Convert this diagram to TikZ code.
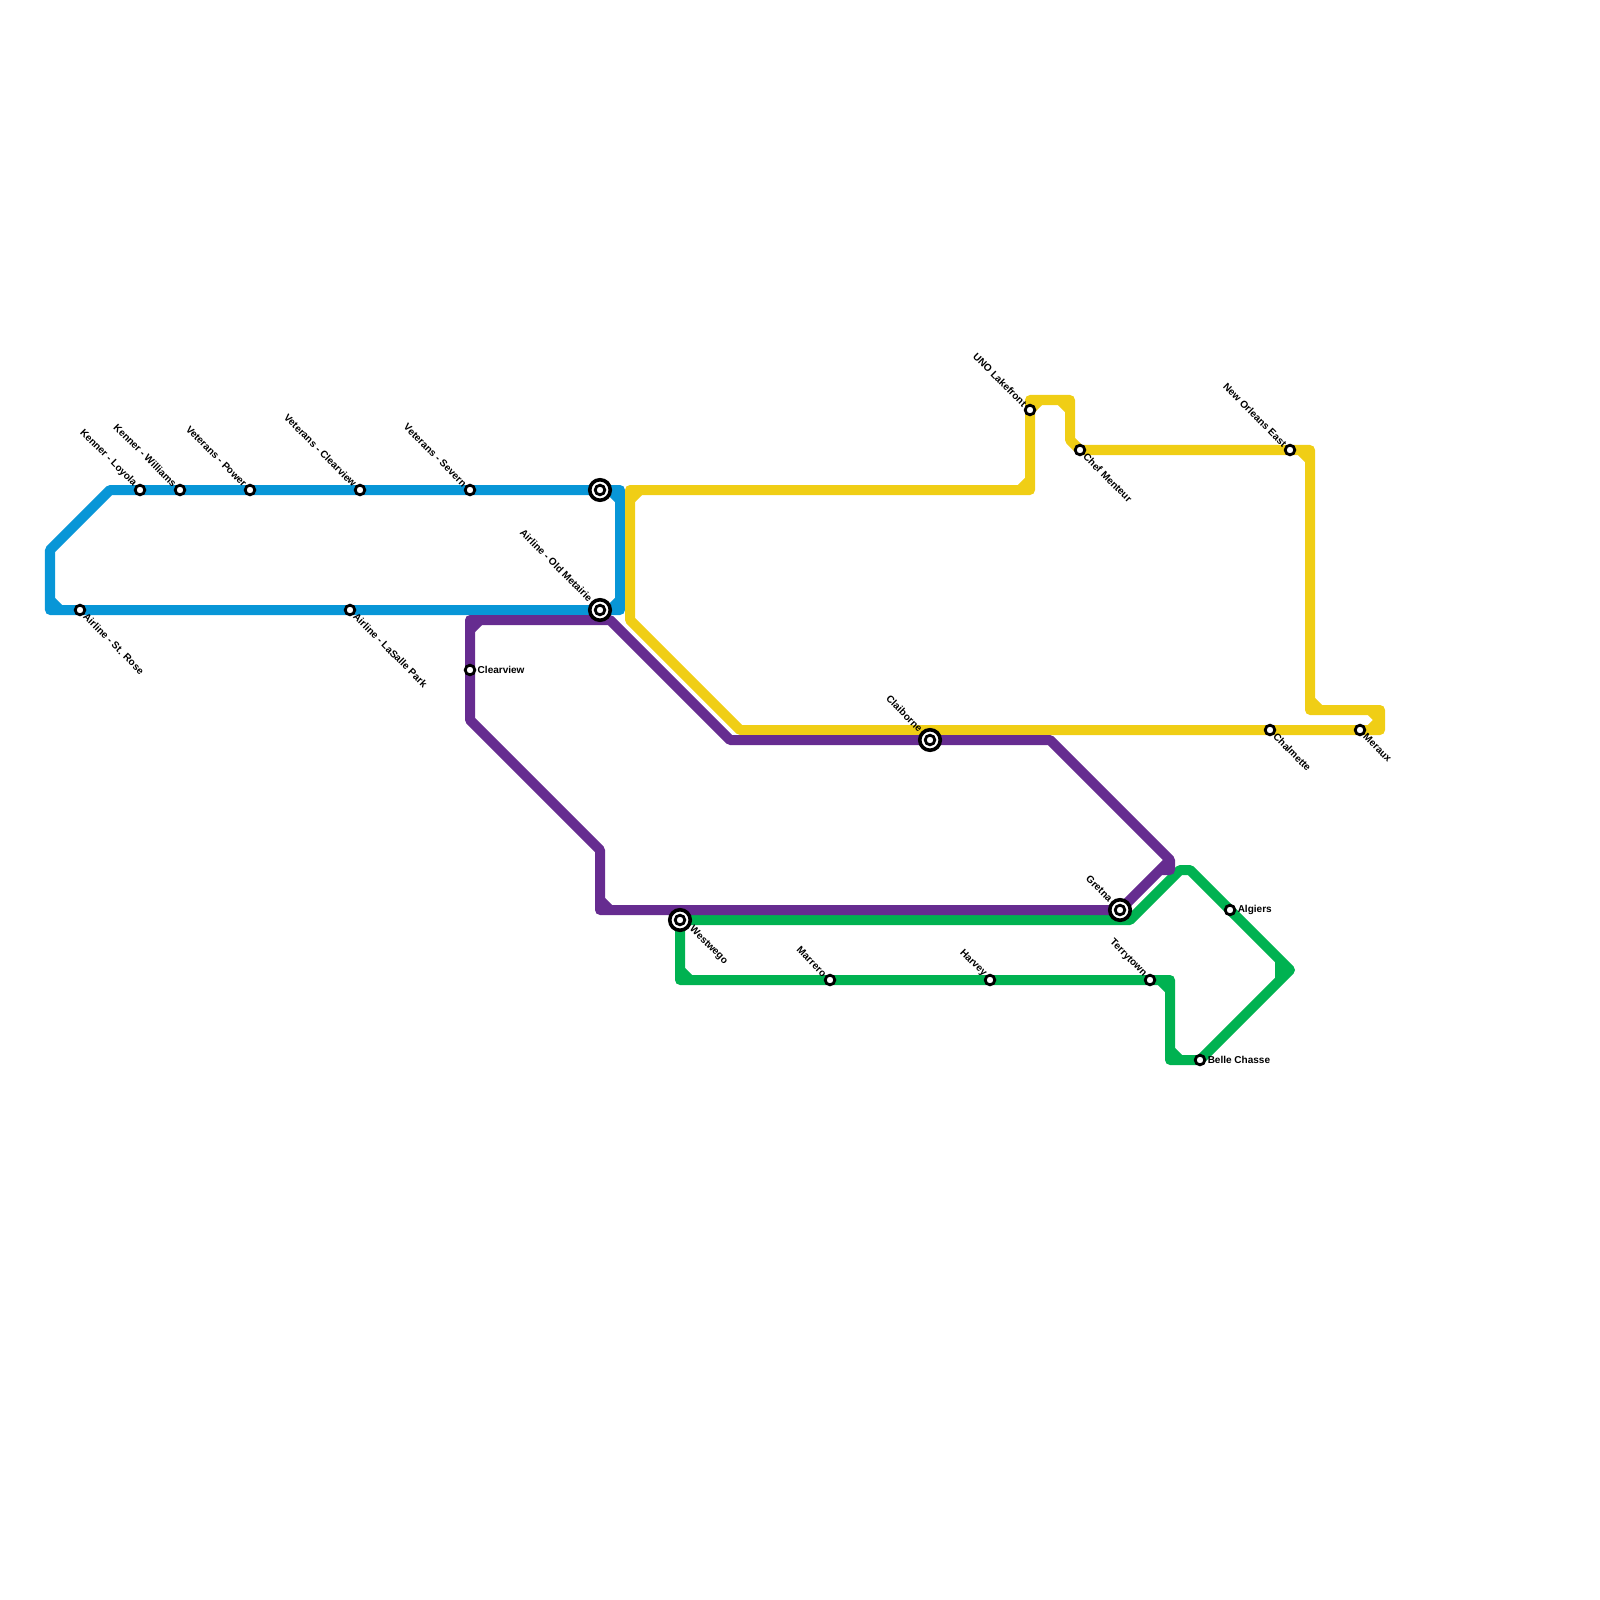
\documentclass[tikz,border=0pt]{standalone}
\usepackage{fontspec}
\setmainfont{Liberation Sans}
\usetikzlibrary{backgrounds}
\definecolor{bluewire}{HTML}{0896D7}
\definecolor{yellowwire}{HTML}{F0CE15}
\definecolor{purplewire}{HTML}{662C90}
\definecolor{greenwire}{HTML}{00B251}
\tikzset{
    wire/.style={line width=0.1cm, line join=round},
    stn/.style={circle, draw=black, fill=white, line width=0.028cm, minimum size=0.096cm, inner sep=0pt},
    hub/.style={circle, draw=black, fill=white, line width=0.036cm, minimum size=0.205cm, inner sep=0pt},
    tag/.style={font=\fontsize{2.85}{3}\selectfont\bfseries, inner sep=0pt, text=black},
    tagnw/.style={tag, anchor=east, xshift=-1.3pt, yshift=1.3pt, rotate=-45},
    tagse/.style={tag, anchor=west, xshift=1.3pt, yshift=-1.3pt, rotate=-45},
    hubnw/.style={tag, anchor=east, xshift=-2.5pt, yshift=2.7pt, rotate=-45},
    hubse/.style={tag, anchor=west, xshift=3pt, yshift=-2.1pt, rotate=-45},
    tagfar/.style={tag, anchor=west, xshift=2pt, yshift=0.15pt},
}
\begin{document}
\begin{tikzpicture}[x=0.01cm, y=-0.01cm]
    \useasboundingbox (0,0) rectangle (1600,1600);
    % corners of the four routes
    \foreach \n/\x/\y in {b1/620/490, b2/620/610, b3/50/610, b4/50/550, b5/110/490,
        y1/630/490, y2/1030/490, y3/1030/400, y4/1070/400, y5/1070/440, y6/1080/450, y7/1310/450,
        y8/1310/710, y9/1380/710, y10/1380/730, y11/740/730, y12/630/620,
        p1/470/620, p2/610/620, p3/730/740, p4/1050/740, p5/1170/860, p6/1170/870, p7/1160/870,
        p8/1120/910, p9/600/910, p10/600/850, p11/470/720,
        g1/680/920, g2/1130/920, g3/1180/870, g4/1190/870, g5/1290/970, g6/1200/1060,
        g7/1170/1060, g8/1170/980, g9/680/980, g10/1280/960, g11/1280/980}
        \coordinate (\n) at (\x,\y);

    % blue line
    \node[stn] (loyola) at (140,490) {};
    \node[stn] (williams) at (180,490) {};
    \node[stn] (power) at (250,490) {};
    \node[stn] (clearviewtop) at (360,490) {};
    \node[stn] (severn) at (470,490) {};
    \node[hub] (transfer) at (600,490) {};
    \node[stn] (transferin) at (transfer) {};
    \node[hub] (metairie) at (600,610) {};
    \node[stn] (metairiein) at (metairie) {};
    \node[stn] (lasalle) at (350,610) {};
    \node[stn] (strose) at (80,610) {};
    \node[tagnw] (loyolatag) at (loyola) {Kenner - Loyola};
    \node[tagnw] (williamstag) at (williams) {Kenner - Williams};
    \node[tagnw] (powertag) at (power) {Veterans - Power};
    \node[tagnw] (clearviewtoptag) at (clearviewtop) {Veterans - Clearview};
    \node[tagnw] (severntag) at (severn) {Veterans - Severn};
    \node[hubnw] (metairietag) at (metairie) {Airline - Old Metairie};
    \node[tagse] (lasalletag) at (lasalle) {Airline - LaSalle Park};
    \node[tagse] (strosetag) at (strose) {Airline - St. Rose};

    % yellow line
    \node[stn] (lakefront) at (1030,410) {};
    \node[stn] (menteur) at (1080,450) {};
    \node[stn] (east) at (1290,450) {};
    \node[stn] (chalmette) at (1270,730) {};
    \node[stn] (meraux) at (1360,730) {};
    \node[tagnw] (lakefronttag) at (lakefront) {UNO Lakefront};
    \node[tagse] (menteurtag) at (menteur) {Chef Menteur};
    \node[tagnw] (easttag) at (east) {New Orleans East};
    \node[tagse] (chalmettetag) at (chalmette) {Chalmette};
    \node[tagse] (merauxtag) at (meraux) {Meraux};

    % purple line
    \node[stn] (clearview) at (470,670) {};
    \node[hub] (claiborne) at (930,740) {};
    \node[stn] (claibornein) at (claiborne) {};
    \node[hub] (gretna) at (1120,910) {};
    \node[stn] (gretnain) at (gretna) {};
    \node[tagfar] (clearviewtag) at (clearview) {Clearview};
    \node[hubnw] (claibornetag) at (claiborne) {Claiborne};
    \node[hubnw] (gretnatag) at (gretna) {Gretna};

    % green line
    \node[hub] (westwego) at (680,920) {};
    \node[stn] (westwegoin) at (westwego) {};
    \node[stn] (marrero) at (830,980) {};
    \node[stn] (harvey) at (990,980) {};
    \node[stn] (terrytown) at (1150,980) {};
    \node[stn] (algiers) at (1230,910) {};
    \node[stn] (belle) at (1200,1060) {};
    \node[hubse] (westwegotag) at (westwego) {Westwego};
    \node[tagnw] (marrerotag) at (marrero) {Marrero};
    \node[tagnw] (harveytag) at (harvey) {Harvey};
    \node[tagnw] (terrytowntag) at (terrytown) {Terrytown};
    \node[tagfar] (algierstag) at (algiers) {Algiers};
    \node[tagfar] (belletag) at (belle) {Belle Chasse};

    \begin{scope}[on background layer]
        \draw[wire, bluewire] (b1) -- (b2) -- (b3) -- (b4) -- (b5) -- cycle;
        \draw[wire, bluewire] (b1) ++(-10,0) -- ++(10,10);
        \draw[wire, bluewire] (b2) ++(-10,0) -- ++(10,-10);
        \draw[wire, bluewire] (b3) ++(0,-10) -- ++(10,10);

        \draw[wire, yellowwire] (y1) -- (y2) -- (y3) -- (y4) -- (y5) -- (y6) -- (y7) -- (y8) -- (y9)
            -- (y10) -- (y11) -- (y12) -- cycle;
        \draw[wire, yellowwire] (y1) ++(0,10) -- ++(10,-10);
        \draw[wire, yellowwire] (y2) ++(-10,0) -- ++(10,-10);
        \draw[wire, yellowwire] (y3) ++(0,10) -- ++(10,-10);
        \draw[wire, yellowwire] (y4) ++(-10,0) -- ++(10,10);
        \draw[wire, yellowwire] (y7) ++(-10,0) -- ++(10,10);
        \draw[wire, yellowwire] (y8) ++(0,-10) -- ++(10,10);
        \draw[wire, yellowwire] (y9) ++(-10,0) -- ++(10,10) -- ++(-10,10);

        \draw[wire, greenwire] (g1) -- (g2) -- (g3) -- (g4) -- (g5) -- (g6) -- (g7) -- (g8) -- (g9) -- cycle;
        \draw[wire, greenwire] (g10) -- (g11);
        \draw[wire, greenwire] (g9) ++(0,-10) -- ++(10,10);
        \draw[wire, greenwire] (g8) ++(-10,0) -- ++(10,10);
        \draw[wire, greenwire] (g7) ++(0,-10) -- ++(10,10);

        \draw[wire, purplewire] (p1) -- (p2) -- (p3) -- (p4) -- (p5) -- (p6) -- (p7) -- (p8) -- (p9)
            -- (p10) -- (p11) -- cycle;
        \draw[wire, purplewire] (p7) -- (p5);
        \draw[wire, purplewire] (p1) ++(0,10) -- ++(10,-10);
        \draw[wire, purplewire] (p9) ++(0,-10) -- ++(10,10);
    \end{scope}
\end{tikzpicture}
\end{document}
